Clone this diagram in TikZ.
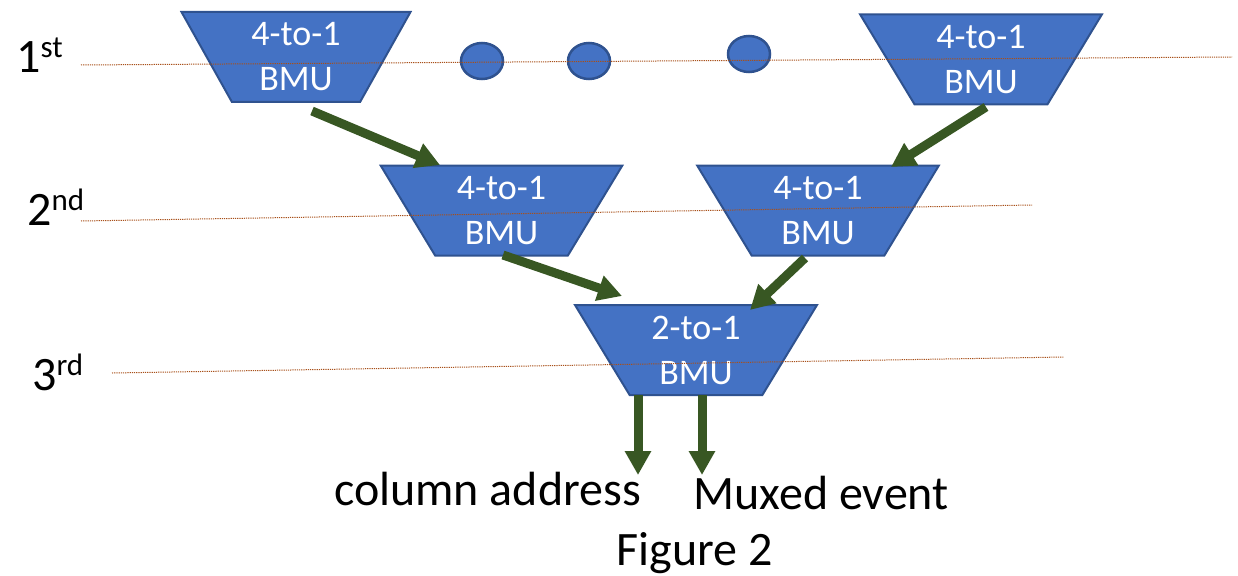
\documentclass[tikz,border=0pt]{standalone}
\usepackage{fontspec}
\setmainfont{Carlito}
\usetikzlibrary{shapes.geometric,arrows.meta,calc}
\definecolor{bmufill}{HTML}{4472C4}
\definecolor{bmuedge}{HTML}{2F528F}
\definecolor{arrgreen}{HTML}{385723}
\definecolor{guidecol}{HTML}{A8501A}
\newcommand\lvlsup[1]{\raisebox{15pt}{\fontsize{31}{31}\selectfont #1}}
\begin{document}
\begin{tikzpicture}[x=1pt,y=-1pt,
 bmu/.style={trapezium, shape border rotate=180, trapezium stretches=true,
   trapezium angle=62, minimum width=242pt, minimum height=90pt,
   fill=bmufill, draw=bmuedge, line width=2pt, text=white, align=center,
   font=\fontsize{36}{45}\selectfont, inner sep=1pt},
 dotnode/.style={ellipse, minimum width=42pt, minimum height=36pt,
   fill=bmufill, draw=bmuedge, line width=2.5pt, inner sep=0pt},
 flow/.style={draw=arrgreen, line width=9pt, -{Triangle[length=24pt,width=25pt]}},
 guide/.style={draw=guidecol, line width=1pt, dash pattern=on 1.2pt off 1pt},
 lvl/.style={anchor=base west, inner sep=0pt, font=\fontsize{48}{56}\selectfont},
 lbl/.style={anchor=base, inner sep=0pt, font=\fontsize{48}{56}\selectfont}
]
\useasboundingbox (0,0) rectangle (1238,575);

% BMU blocks
\node[bmu, minimum width=229pt, trapezium angle=63] (t1) at (296,57) {4-to-1\\BMU};
\node[bmu] (t2) at (981,59.5) {4-to-1\\BMU};
\node[bmu] (t3) at (501.5,210.5) {4-to-1\\BMU};
\node[bmu] (t4) at (818,210.5) {4-to-1\\BMU};
\node[bmu] (t5) at (696,350) {2-to-1\\BMU};

% ellipsis dots
\node[dotnode] (d1) at (482,61) {};
\node[dotnode] (d2) at (589,61) {};
\node[dotnode] (d3) at (749,54) {};

% level guide lines
\coordinate (g1a) at (81,65);   \coordinate (g1b) at (1232,57);
\coordinate (g2a) at (81,221);  \coordinate (g2b) at (1032,205);
\coordinate (g3a) at (112,373); \coordinate (g3b) at (1064,357);
\draw[guide] (g1a) -- (g1b);
\draw[guide] (g2a) -- (g2b);
\draw[guide] (g3a) -- (g3b);

% level labels
\node[lvl] (r1) at (16,73) {1\lvlsup{st}};
\node[lvl] (r2) at (27,225) {2\lvlsup{nd}};
\node[lvl] (r3) at (32,390) {3\lvlsup{rd}};

% connectors
\draw[flow] ([shift={(16,54)}]t1.center) -- ([shift={(-61.5,-45.5)}]t3.center);
\draw[flow] ([shift={(5,47.5)}]t2.center) -- ([shift={(73,-43.5)}]t4.center);
\draw[flow] ([shift={(1.5,44.5)}]t3.center) -- ([shift={(-74,-54)}]t5.center);
\draw[flow] ([shift={(-13,47.5)}]t4.center) -- ([shift={(54,-40)}]t5.center);
\coordinate (o1) at (638,475);
\coordinate (o2) at (702,475);
\draw[flow] ([shift={(-58,45)}]t5.center) -- (o1);
\draw[flow] ([shift={(6,45)}]t5.center) -- (o2);

% output labels
\node[lbl] (ca) at (487.5,505) {column address};
\node[lbl] (me) at (821,509) {Muxed event};
\node[lbl] (fig) at (694.5,565) {Figure 2};
\end{tikzpicture}
\end{document}
